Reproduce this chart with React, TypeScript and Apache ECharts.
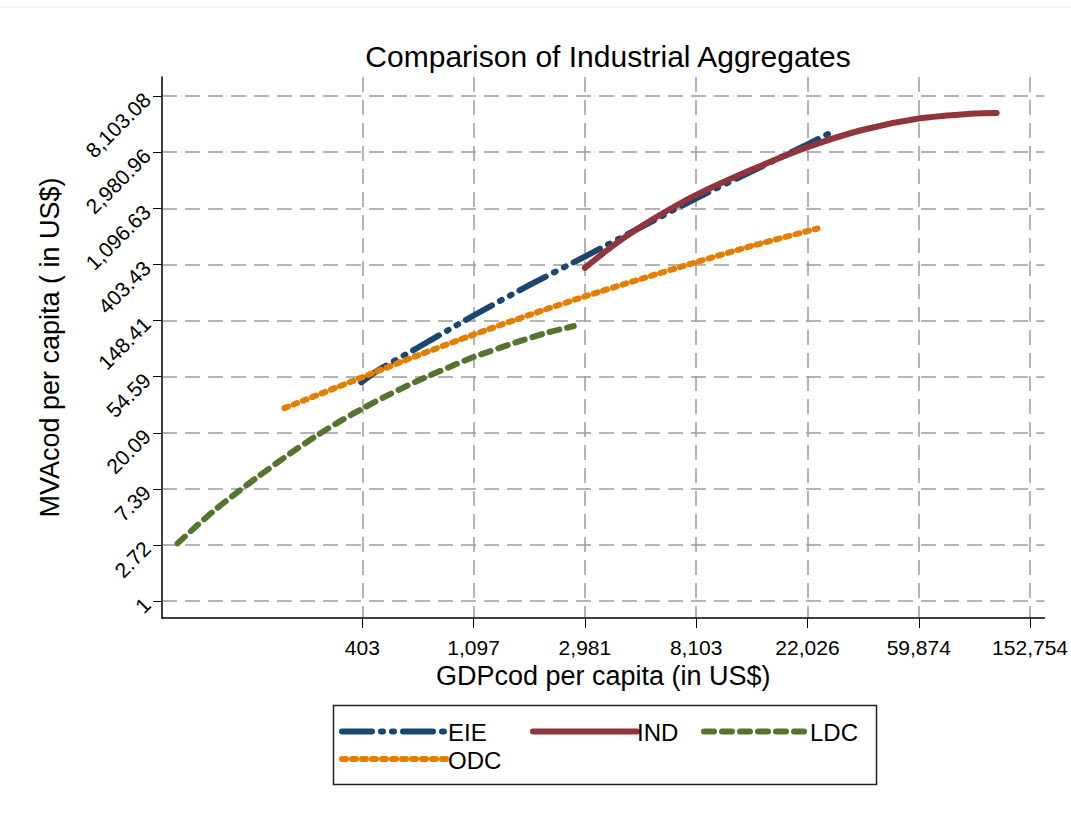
import React, { useEffect, useRef } from "react";
import * as echarts from "echarts";

// ---- Data (natural-log scale: ln of US$ per capita) ----
const chartTitle = "Comparison of Industrial Aggregates";
const xAxisTitle = "GDPcod per capita (in US$)";
const yAxisTitle = "MVAcod per capita ( in US$)";

const seriesNames = ["EIE", "IND", "LDC", "ODC"];

const xTickValues = [6, 7, 8, 9, 10, 11, 12];
const xTickLabels = ["403", "1,097", "2,981", "8,103", "22,026", "59,874", "152,754"];
const yTickValues = [0, 1, 2, 3, 4, 5, 6, 7, 8, 9];
const yTickLabels = ["1", "2.72", "7.39", "20.09", "54.59", "148.41", "403.43", "1,096.63", "2,980.96", "8,103.08"];

const eieLnGdp = [5.99, 6.13, 6.5, 7.0, 7.5, 8.0, 8.5, 9.0, 9.5, 10.0, 10.24];
const eieLnMva = [3.9, 4.1, 4.52, 5.09, 5.63, 6.14, 6.66, 7.18, 7.66, 8.14, 8.38];

const indLnGdp = [8.0, 8.25, 8.5, 8.75, 9.0, 9.5, 10.0, 10.5, 11.0, 11.5, 11.7];
const indLnMva = [5.94, 6.33, 6.67, 6.97, 7.24, 7.69, 8.09, 8.4, 8.6, 8.69, 8.7];

const ldcLnGdp = [4.34, 4.51, 4.69, 4.87, 5.05, 5.35, 5.59, 5.82, 6.0, 6.24, 6.48, 6.78, 7.0, 7.38, 7.67, 7.9];
const ldcLnMva = [1.03, 1.34, 1.65, 1.93, 2.2, 2.63, 2.95, 3.23, 3.43, 3.68, 3.91, 4.17, 4.35, 4.61, 4.79, 4.9];

const odcLnGdp = [5.3, 6.0, 6.5, 7.0, 7.5, 8.0, 8.5, 9.0, 9.5, 10.09];
const odcLnMva = [3.44, 3.99, 4.38, 4.75, 5.1, 5.43, 5.74, 6.04, 6.33, 6.64];

const zip = (xs: number[], ys: number[]) => xs.map((x, i) => [x, ys[i]]);

const FONT = "'Liberation Sans', Arial, sans-serif";

const styles = [
  { color: "#1a476f", dash: [30, 9, 2, 9, 2, 9] as number[] | "solid", width: 6 },
  { color: "#90353b", dash: "solid" as number[] | "solid", width: 6 },
  { color: "#55752f", dash: [10, 8] as number[] | "solid", width: 6 },
  { color: "#e37e00", dash: [4, 6] as number[] | "solid", width: 6 },
];

export default function App() {
  const ref = useRef<HTMLDivElement>(null);

  useEffect(() => {
    if (!ref.current) return;
    const chart = echarts.init(ref.current, undefined, { renderer: "svg" });

    const dataSets = [
      zip(eieLnGdp, eieLnMva),
      zip(indLnGdp, indLnMva),
      zip(ldcLnGdp, ldcLnMva),
      zip(odcLnGdp, odcLnMva),
    ];

    const series = seriesNames.map((name, i) => ({
      name,
      type: "line",
      data: dataSets[i],
      showSymbol: false,
      symbol: "none",
      smooth: 0.25,
      z: 3 + (i === 1 ? 1 : 0),
      lineStyle: {
        color: styles[i].color,
        width: styles[i].width,
        type: styles[i].dash,
        cap: "round",
        join: "round",
      },
    }));

    // legend built with graphic elements (Stata-style box)
    const legendRows = [
      { x1: 342, x2: 448, tx: 448, y: 731.5 },
      { x1: 533, x2: 637, tx: 637, y: 731.5 },
      { x1: 704, x2: 810, tx: 810, y: 731.5 },
      { x1: 342, x2: 448, tx: 448, y: 759 },
    ];
    const legendEls: any[] = [
      {
        type: "rect",
        shape: { x: 333.5, y: 705.5, width: 543, height: 79 },
        style: { fill: "#fff", stroke: "#222", lineWidth: 1.5 },
      },
    ];
    seriesNames.forEach((name, i) => {
      const r = legendRows[i];
      legendEls.push({
        type: "line",
        shape: { x1: r.x1, y1: r.y, x2: r.x2, y2: r.y },
        style: {
          stroke: styles[i].color,
          lineWidth: styles[i].width,
          lineDash: styles[i].dash === "solid" ? null : styles[i].dash,
          lineCap: "round",
        },
      });
      legendEls.push({
        type: "text",
        x: r.tx,
        y: r.y + 1,
        style: {
          text: name,
          fill: "#000",
          font: `24px ${FONT}`,
          textAlign: "left",
          textVerticalAlign: "middle",
        },
      });
    });

    chart.setOption({
      animation: false,
      backgroundColor: "#ffffff",
      title: {
        text: chartTitle,
        left: 603,
        top: 36,
        textAlign: "center",
        textStyle: { fontFamily: FONT, fontSize: 30, fontWeight: "normal", color: "#000" },
      },
      grid: { left: 162, right: 23, top: 77, bottom: 200, containLabel: false },
      xAxis: {
        type: "value",
        min: 4.2,
        max: 12.13,
        name: xAxisTitle,
        nameLocation: "middle",
        nameGap: 33,
        nameTextStyle: { fontFamily: FONT, fontSize: 27, color: "#000" },
        axisLine: { show: true, onZero: false, lineStyle: { color: "#000", width: 1.5 } },
        axisTick: { show: true, length: 10, customValues: xTickValues, lineStyle: { color: "#000", width: 1 } },
        axisLabel: {
          customValues: xTickValues,
          margin: 19,
          fontFamily: FONT,
          fontSize: 21,
          color: "#000",
          formatter: (v: number) => xTickLabels[xTickValues.indexOf(Math.round(v))] ?? "",
        },
        splitLine: { show: true, lineStyle: { color: "#9c9c9c", width: 1.5, type: [15, 8] } },
      },
      yAxis: {
        type: "value",
        min: -0.3,
        max: 9.34,
        name: yAxisTitle,
        nameLocation: "middle",
        nameRotate: 90,
        nameGap: 99,
        nameTextStyle: { fontFamily: FONT, fontSize: 27, color: "#000" },
        axisLine: { show: true, onZero: false, lineStyle: { color: "#000", width: 1.5 } },
        axisTick: { show: true, length: 9, customValues: yTickValues, lineStyle: { color: "#000", width: 1 } },
        axisLabel: {
          customValues: yTickValues,
          rotate: 45,
          margin: 15,
          fontFamily: FONT,
          fontSize: 21,
          color: "#000",
          formatter: (v: number) => yTickLabels[yTickValues.indexOf(Math.round(v))] ?? "",
        },
        splitLine: { show: true, lineStyle: { color: "#9c9c9c", width: 1.5, type: [15, 8] } },
      },
      series,
      graphic: [
        {
          type: "line",
          shape: { x1: 0, y1: 7, x2: 1071, y2: 7 },
          style: { stroke: "#ececec", lineWidth: 1 },
          silent: true,
        },
        ...legendEls,
      ],
    });

    return () => chart.dispose();
  }, []);

  return (
    <div
      ref={ref}
      style={{ position: "absolute", left: 0, top: 0, width: 1071, height: 818, background: "#fff" }}
    />
  );
}
